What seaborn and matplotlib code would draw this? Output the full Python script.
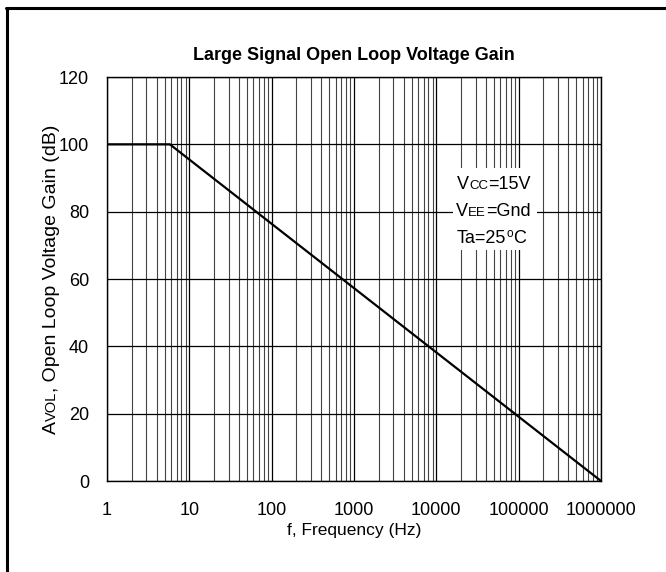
import numpy as np
import pandas as pd
import seaborn as sns
import matplotlib.pyplot as plt
from matplotlib.lines import Line2D
from matplotlib.patches import Rectangle
from matplotlib.ticker import LogLocator, FixedLocator, NullFormatter

# data
freq_hz = [1, 5.8, 1000000]
gain_db = [100, 100, 0]
x_ticks = [1, 10, 100, 1000, 10000, 100000, 1000000]
x_tick_labels = ["1", "10", "100", "1000", "10000", "100000", "1000000"]
y_ticks = [0, 20, 40, 60, 80, 100, 120]

sns.set_style("white")
plt.rcParams['font.family'] = ['Liberation Sans', 'DejaVu Sans']
plt.rcParams['text.color'] = 'black'
plt.rcParams['axes.labelcolor'] = 'black'

W, H = 666, 572
fig = plt.figure(figsize=(W / 100, H / 100), dpi=100)
ax = fig.add_axes([107 / W, 1 - 481 / H, 494 / W, 404 / H])

df = pd.DataFrame({"f": freq_hz, "gain": gain_db})
sns.lineplot(data=df, x="f", y="gain", ax=ax, color="black", linewidth=1.6, zorder=5)

ax.set_xscale("log")
ax.set_xlim(1, 1e6)
ax.set_ylim(0, 120)
ax.xaxis.set_major_locator(FixedLocator(x_ticks))
ax.set_xticklabels(x_tick_labels)
ax.xaxis.set_minor_locator(LogLocator(base=10, subs=np.arange(2, 10)))
ax.xaxis.set_minor_formatter(NullFormatter())
ax.set_yticks(y_ticks)

ax.grid(True, which="major", axis="both", color="black", linewidth=0.9)
ax.grid(True, which="minor", axis="x", color="#444444", linewidth=0.8)
ax.tick_params(axis="both", which="both", length=0, labelsize=13, colors="black")
ax.tick_params(axis="x", pad=15)
ax.tick_params(axis="y", pad=13)
for s in ax.spines.values():
    s.set_color("black")
    s.set_linewidth(1.0)

ax.set_title("Large Signal Open Loop Voltage Gain", fontsize=13, fontweight="bold",
             pad=12, color="black")
ax.set_xlabel("f, Frequency (Hz)", fontsize=12.5, labelpad=3)
ax.set_ylabel("")

# white box behind the conditions text
box = Rectangle((453 / W, 1 - 250 / H), 84 / W, 82 / H, transform=fig.transFigure,
                facecolor="white", edgecolor="none", zorder=3)
fig.patches.append(box)

renderer = fig.canvas.get_renderer()


def rich_text(x0, y0, pieces, vertical=False):
    # pieces: (text, fontsize, baseline shift px); x0, y0 in pixels from top-left
    pos = x0 if not vertical else y0
    for txt, size, dy in pieces:
        if vertical:
            t = fig.text((x0 - dy) / W, 1 - pos / H, txt, fontsize=size, ha="left",
                         va="baseline", rotation=90, rotation_mode="anchor", zorder=10)
            pos -= t.get_window_extent(renderer).height
        else:
            t = fig.text(pos / W, 1 - (y0 - dy) / H, txt, fontsize=size, ha="left",
                         va="baseline", zorder=10)
            pos += t.get_window_extent(renderer).width


rich_text(457, 189, [("V", 13, 0), ("CC", 9.5, 0), ("=15V", 13, 0)])
rich_text(456, 216, [("V", 13, 0), ("EE", 9.5, 0), ("=Gnd", 13, 0)])
rich_text(457, 243, [("Ta=25", 13, 0), ("o", 8.5, 6), ("C", 13, 0)])

# y label with small-caps subscript, drawn bottom to top
rich_text(56, 434, [("A", 14, 0), ("VOL", 10.5, 0), (", Open Loop Voltage Gain (dB)", 14, 0)],
          vertical=True)

# outer frame (left and top edges)
fig.add_artist(Line2D([7 / W, 7 / W], [0, 1 - 8 / H], color="black", linewidth=2.2))
fig.add_artist(Line2D([6 / W, 1], [1 - 8 / H, 1 - 8 / H], color="black", linewidth=2.2))

fig.savefig("out.png", dpi=100)
